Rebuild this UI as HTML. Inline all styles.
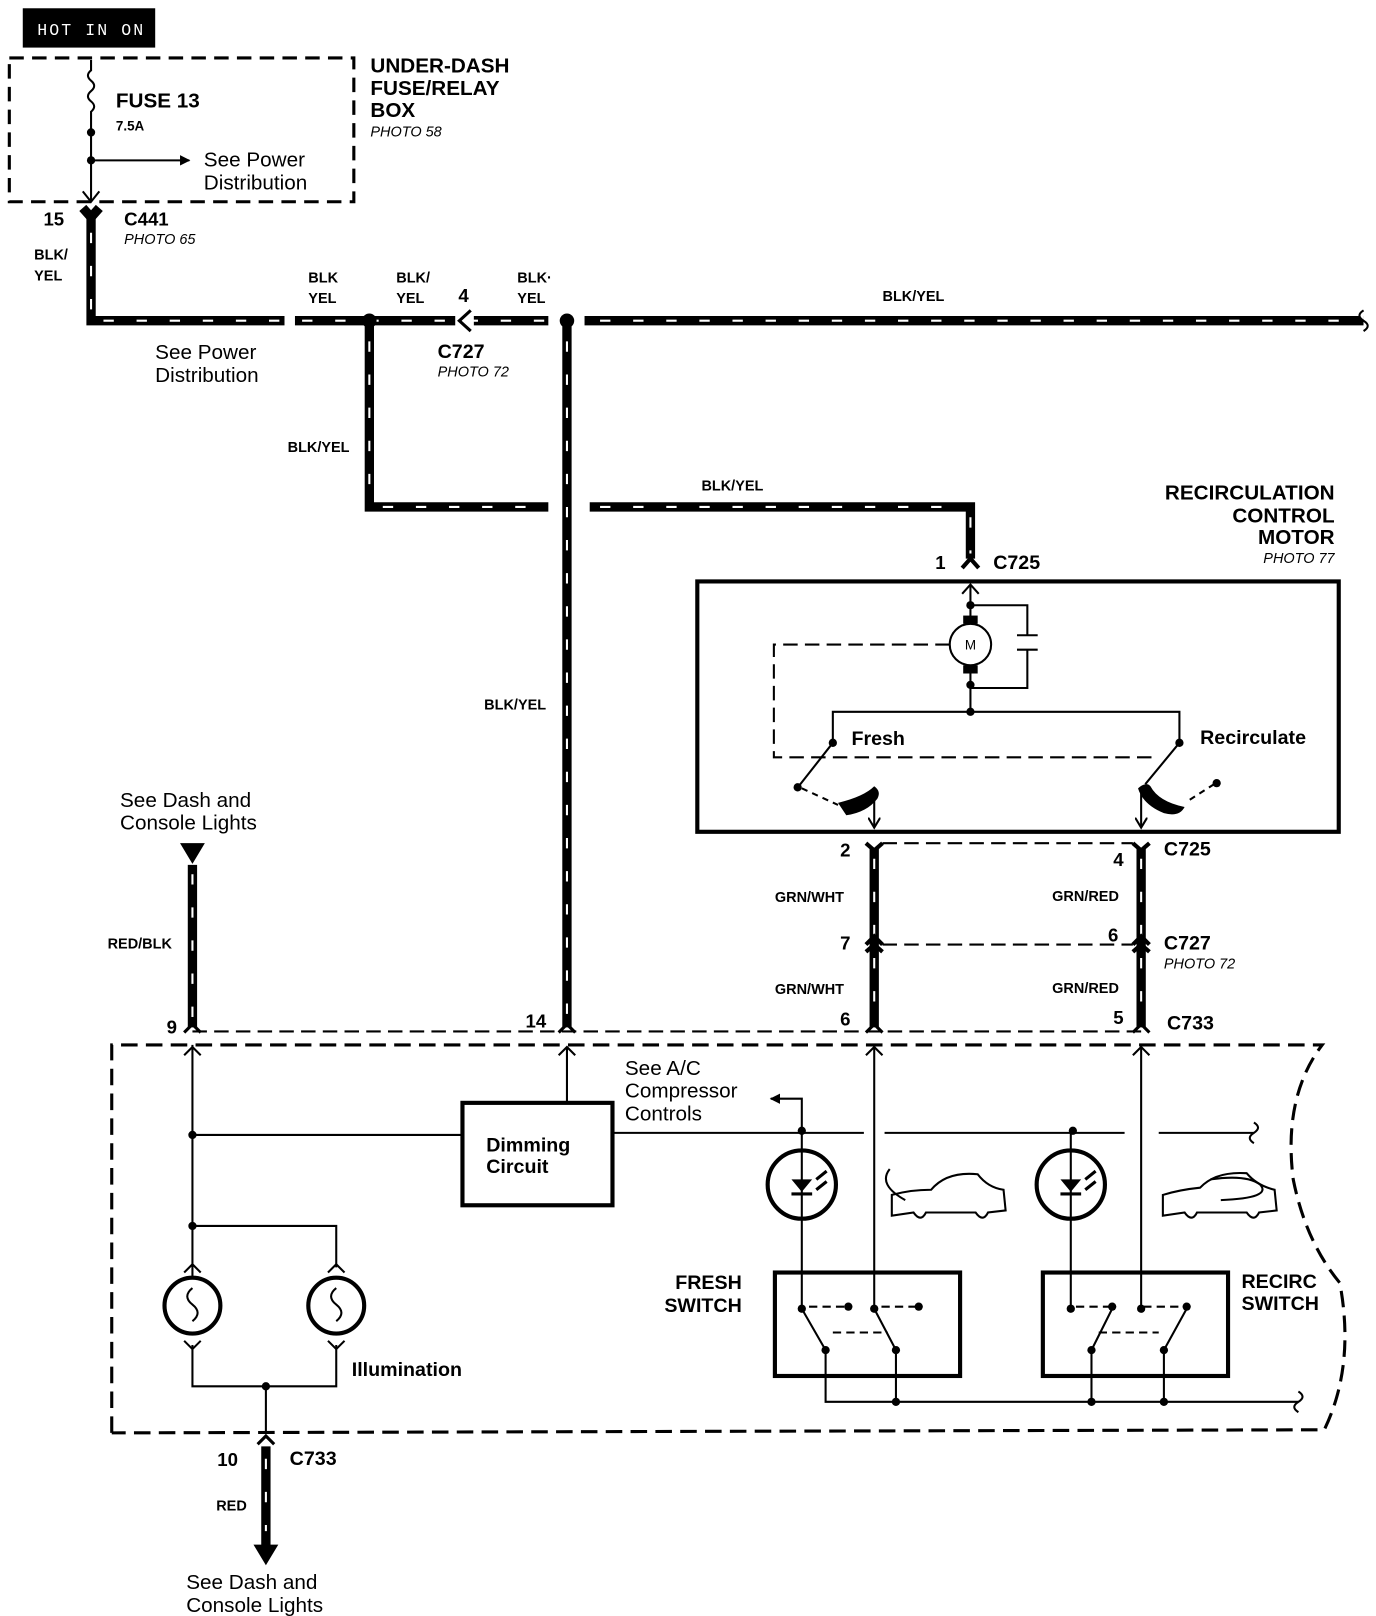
<!DOCTYPE html>
<html><head><meta charset="utf-8"><style>
html,body{margin:0;padding:0;background:#fff}
svg{display:block}
text{font-family:"Liberation Sans",Arial,sans-serif;fill:#000}
.b{font-weight:bold}
.i{font-style:italic;font-size:14px}
</style></head><body>
<svg width="1376" height="1616" viewBox="0 0 1330 1562" xmlns="http://www.w3.org/2000/svg">
<defs>
<marker id="ah" markerWidth="10" markerHeight="10" refX="9" refY="5" orient="auto" markerUnits="userSpaceOnUse"><path d="M0,0 L10,5 L0,10 z" fill="#000"/></marker>
<marker id="ao" markerWidth="12" markerHeight="12" refX="10" refY="6" orient="auto" markerUnits="userSpaceOnUse"><path d="M0,0 L10,6 L0,12" fill="none" stroke="#000" stroke-width="2"/></marker>
</defs>
<rect width="1330" height="1562" fill="#fff"/>
<!-- HOT IN ON -->
<rect x="22" y="8" width="128" height="38" fill="#000"/>
<text x="36" y="34" font-size="16" style="fill:#fff;letter-spacing:2px;font-family:'Liberation Mono',monospace">HOT IN ON</text>
<!-- fuse box -->
<rect x="9" y="56" width="333" height="139" fill="none" stroke="#000" stroke-width="3" stroke-dasharray="14 8"/>
<g stroke="#000" stroke-width="2" fill="none">
<path d="M88,58 L88,68 q-6,5 0,10 q6,5 0,10 q-6,5 0,10 q6,5 0,10 L88,195"/>
<path d="M88,155 L183,155" marker-end="url(#ah)"/>
<path d="M80,185 L88,195 L96,185"/>
</g>
<circle cx="88" cy="128" r="4"/><circle cx="88" cy="155" r="4"/>
<text x="112" y="104" font-size="20" class="b">FUSE 13</text>
<text x="112" y="126" font-size="13" class="b">7.5A</text>
<text x="197" y="161" font-size="20">See Power</text>
<text x="197" y="183" font-size="20">Distribution</text>
<text x="358" y="70" font-size="20" class="b">UNDER-DASH</text>
<text x="358" y="92" font-size="20" class="b">FUSE/RELAY</text>
<text x="358" y="113" font-size="20" class="b">BOX</text>
<text x="358" y="132" class="i">PHOTO 58</text>
<!-- C441 -->
<text x="42" y="218" font-size="18" class="b">15</text>
<text x="120" y="218" font-size="18" class="b">C441</text>
<text x="120" y="236" class="i">PHOTO 65</text>
<text x="33" y="251" font-size="14" class="b">BLK/</text>
<text x="33" y="271" font-size="14" class="b">YEL</text>
<!-- thick wires -->
<g stroke="#000" stroke-width="9" fill="none">
<path d="M80,201 L88,210 L96,201"/>
<path d="M88,205 L88,310 L275,310"/>
<path d="M285,310 L440,310"/>
<path d="M458,310 L530,310"/>
<path d="M565,310 L1318,310"/>
<path d="M357,310 L357,490 L530,490"/>
<path d="M548,310 L548,993"/>
<path d="M570,490 L938,490 L938,540"/>
<path d="M845,820 L845,993"/>
<path d="M1103,820 L1103,993"/>
<path d="M186,836 L186,993"/>
<path d="M257,1398 L257,1495"/>
</g>
<g stroke="#fff" stroke-width="2" fill="none" stroke-dasharray="10 22">
<path d="M88,225 L88,300"/>
<path d="M100,310 L1310,310"/>
<path d="M357,330 L357,480"/>
<path d="M370,490 L520,490"/>
<path d="M548,330 L548,985"/>
<path d="M580,490 L925,490"/>
<path d="M938,500 L938,535"/>
<path d="M845,830 L845,985"/>
<path d="M1103,830 L1103,985"/>
<path d="M186,845 L186,985"/>
<path d="M257,1410 L257,1480"/>
</g>
<rect x="275" y="300" width="10" height="20" fill="#fff"/>
<path d="M1318,300 q-8,5 0,10 q8,5 0,10" stroke="#000" stroke-width="2" fill="#fff"/>
<path d="M455,300 L444,310 L455,320" stroke="#000" stroke-width="3" fill="none"/>
<circle cx="357" cy="310" r="7"/><circle cx="548" cy="310" r="7"/>
<text x="298" y="273" font-size="14" class="b">BLK</text>
<text x="298" y="293" font-size="14" class="b">YEL</text>
<text x="383" y="273" font-size="14" class="b">BLK/</text>
<text x="383" y="293" font-size="14" class="b">YEL</text>
<text x="443" y="292" font-size="18" class="b">4</text>
<text x="500" y="273" font-size="14" class="b">BLK·</text>
<text x="500" y="293" font-size="14" class="b">YEL</text>
<text x="853" y="291" font-size="14" class="b">BLK/YEL</text>
<text x="423" y="346" font-size="19" class="b">C727</text>
<text x="423" y="364" class="i">PHOTO 72</text>
<text x="150" y="347" font-size="20">See Power</text>
<text x="150" y="369" font-size="20">Distribution</text>
<text x="278" y="437" font-size="14" class="b">BLK/YEL</text>
<text x="468" y="686" font-size="14" class="b">BLK/YEL</text>
<text x="678" y="474" font-size="14" class="b">BLK/YEL</text>
<!-- Motor title -->
<text x="1290" y="483" font-size="20" class="b" text-anchor="end">RECIRCULATION</text>
<text x="1290" y="505" font-size="20" class="b" text-anchor="end">CONTROL</text>
<text x="1290" y="526" font-size="20" class="b" text-anchor="end">MOTOR</text>
<text x="1290" y="544" class="i" text-anchor="end">PHOTO 77</text>
<text x="904" y="550" font-size="18" class="b">1</text>
<text x="960" y="550" font-size="19" class="b">C725</text>
<path d="M930,549 L938,540 L946,549" stroke="#000" stroke-width="4" fill="none"/>
<!-- Motor box -->
<rect x="674" y="562" width="620" height="242" fill="none" stroke="#000" stroke-width="4"/>
<g stroke="#000" stroke-width="2" fill="none">
<path d="M938,565 L938,600"/>
<path d="M930,574 L938,565 L946,574"/>
<path d="M938,585 L993,585 L993,614"/>
<path d="M983,614 L1003,614 M983,628 L1003,628"/>
<path d="M993,628 L993,665 L938,665"/>
<path d="M938,645 L938,688"/>
<path d="M805,718 L805,688 L1140,688 L1140,718"/>
<path d="M918,623 L748,623 L748,732 L1120,732" stroke-dasharray="14 7"/>
<path d="M805,718 L772,760 M1140,718 L1107,758"/>
<path d="M775,762 L810,778" stroke-dasharray="6 5"/>
<path d="M1150,773 L1175,757" stroke-dasharray="6 5"/>
<path d="M845,765 L845,800" marker-end="url(#ao)"/>
<path d="M1103,765 L1103,800" marker-end="url(#ao)"/>
</g>
<circle cx="938" cy="623" r="20" fill="#fff" stroke="#000" stroke-width="2"/>
<text x="938" y="628" font-size="13" text-anchor="middle">M</text>
<rect x="931" y="595" width="14" height="8"/><rect x="931" y="643" width="14" height="8"/>
<circle cx="938" cy="585" r="4"/><circle cx="938" cy="662" r="4"/><circle cx="938" cy="688" r="4"/>
<circle cx="805" cy="718" r="4"/><circle cx="1140" cy="718" r="4"/>
<circle cx="771" cy="761" r="4"/><circle cx="1176" cy="757" r="4"/>
<path d="M810,776 Q835,770 845,760 Q852,765 848,772 Q838,785 818,788 Z" fill="#000"/>
<path d="M1100,762 Q1108,755 1112,760 Q1120,775 1145,780 Q1140,790 1125,786 Q1105,778 1100,762 Z" fill="#000"/>
<text x="823" y="720" font-size="19" class="b">Fresh</text>
<text x="1160" y="719" font-size="19" class="b">Recirculate</text>
<!-- C725 / C727 lower -->
<g stroke="#000" stroke-width="4" fill="none">
<path d="M837,815 L845,822 L853,815 M1095,815 L1103,822 L1111,815"/>
<path d="M837,913 L845,905 L853,913 M1095,913 L1103,905 L1111,913"/>
<path d="M837,920 L845,913 L853,920 M1095,920 L1103,913 L1111,920"/>
</g>
<g stroke="#000" stroke-width="2" fill="none" stroke-dasharray="14 7">
<path d="M853,815 L1095,815"/>
<path d="M853,913 L1095,913"/>
<path d="M186,997 L1110,997"/>
</g>
<text x="812" y="828" font-size="18" class="b">2</text>
<text x="1076" y="837" font-size="18" class="b">4</text>
<text x="1125" y="827" font-size="19" class="b">C725</text>
<text x="749" y="872" font-size="14" class="b">GRN/WHT</text>
<text x="1017" y="871" font-size="14" class="b">GRN/RED</text>
<text x="812" y="918" font-size="18" class="b">7</text>
<text x="1071" y="910" font-size="18" class="b">6</text>
<text x="1125" y="918" font-size="19" class="b">C727</text>
<text x="1125" y="936" class="i">PHOTO 72</text>
<text x="749" y="961" font-size="14" class="b">GRN/WHT</text>
<text x="1017" y="960" font-size="14" class="b">GRN/RED</text>
<text x="812" y="991" font-size="18" class="b">6</text>
<text x="1076" y="990" font-size="18" class="b">5</text>
<text x="1128" y="995" font-size="19" class="b">C733</text>
<text x="161" y="999" font-size="18" class="b">9</text>
<text x="508" y="993" font-size="18" class="b">14</text>
<g stroke="#000" stroke-width="3" fill="none">
<path d="M178,998 L186,990 L194,998 M540,998 L548,990 L556,998 M837,998 L845,990 L853,998 M1095,998 L1103,990 L1111,998"/>
</g>
<!-- See Dash top -->
<text x="116" y="780" font-size="20">See Dash and</text>
<text x="116" y="802" font-size="20">Console Lights</text>
<path d="M174,815 L198,815 L186,835 Z"/>
<text x="104" y="917" font-size="14" class="b">RED/BLK</text>
<!-- big dashed box -->
<path d="M108,1385 L108,1010 L1278,1010 Q1240,1060 1250,1140 Q1262,1200 1295,1240 Q1310,1320 1280,1382 L108,1385" fill="none" stroke="#000" stroke-width="3" stroke-dasharray="16 8"/>
<g stroke="#000" stroke-width="2" fill="none">
<path d="M186,1010 L186,1235"/>
<path d="M178,1020 L186,1012 L194,1020 M540,1020 L548,1012 L556,1020 M837,1020 L845,1012 L853,1020 M1095,1020 L1103,1012 L1111,1020"/>
<path d="M186,1097 L447,1097"/>
<path d="M548,1066 L548,1012"/>
<path d="M592,1095 L835,1095 M855,1095 L1087,1095 M1120,1095 L1212,1095"/>
<path d="M1212,1085 q8,5 0,10 q-8,5 0,10"/>
<path d="M775,1095 L775,1062 L745,1062" marker-end="url(#ah)"/>
<path d="M845,1012 L845,1265 M1103,1012 L1103,1265 M775,1095 L775,1265 M1035,1095 L1035,1265"/>
<path d="M186,1185 L325,1185 L325,1225"/>
<path d="M186,1300 L186,1340 L325,1340 L325,1300"/>
<path d="M257,1340 L257,1385"/>
<path d="M798,1305 L798,1355 L1255,1355"/>
<path d="M1255,1345 q8,5 0,10 q-8,5 0,10"/>
<path d="M866,1305 L866,1355 M1055,1305 L1055,1355 M1125,1305 L1125,1355"/>
<path d="M178,1230 L186,1222 L194,1230 M317,1230 L325,1222 L333,1230 M178,1296 L186,1304 L194,1296 M317,1296 L325,1304 L333,1296"/>
<path d="M775,1265 L798,1305 M845,1265 L866,1305 M1075,1265 L1055,1305 M1147,1265 L1125,1305"/>
<path d="M782,1263 L820,1263 M852,1263 L888,1263 M1040,1263 L1075,1263 M1105,1263 L1145,1263 M805,1288 L858,1288 M1062,1288 L1120,1288" stroke-dasharray="8 5"/>
<path d="M860,1130 q-12,15 15,30"/>
<path d="M862,1175 L862,1155 Q880,1150 900,1150 Q915,1132 945,1135 Q955,1148 970,1150 L972,1170 L955,1172 q-5,10 -12,0 L895,1172 q-5,10 -12,0 Z"/>
<path d="M1124,1175 L1124,1155 Q1140,1150 1160,1148 Q1175,1132 1205,1134 Q1215,1146 1232,1150 L1234,1170 L1217,1172 q-5,10 -12,0 L1157,1172 q-5,10 -12,0 Z"/>
<path d="M1180,1160 Q1230,1158 1218,1145 Q1205,1135 1170,1140"/>
</g>
<g stroke="#000" stroke-width="4" fill="none">
<rect x="447" y="1066" width="145" height="99"/>
<circle cx="775" cy="1145" r="33"/>
<circle cx="1035" cy="1145" r="33"/>
<circle cx="186" cy="1262" r="27"/>
<circle cx="325" cy="1262" r="27"/>
<rect x="749" y="1230" width="179" height="100"/>
<rect x="1008" y="1230" width="179" height="100"/>
</g>
<path d="M765,1140 L785,1140 L775,1152 Z M1025,1140 L1045,1140 L1035,1152 Z"/>
<path d="M765,1154 L785,1154 M1025,1154 L1045,1154 M789,1140 L799,1132 M789,1150 L799,1142 M1049,1140 L1059,1132 M1049,1150 L1059,1142" stroke="#000" stroke-width="3"/>
<path d="M186,1245 q-10,8 0,16 q10,8 0,16 M325,1245 q-10,8 0,16 q10,8 0,16" stroke="#000" stroke-width="2" fill="none"/>
<g>
<circle cx="186" cy="1097" r="4"/><circle cx="186" cy="1185" r="4"/><circle cx="257" cy="1340" r="4"/>
<circle cx="775" cy="1093" r="4"/><circle cx="1037" cy="1093" r="4"/>
<circle cx="866" cy="1355" r="4"/><circle cx="1055" cy="1355" r="4"/><circle cx="1125" cy="1355" r="4"/>
<circle cx="775" cy="1265" r="4"/><circle cx="845" cy="1265" r="4"/><circle cx="820" cy="1263" r="4"/><circle cx="888" cy="1263" r="4"/>
<circle cx="798" cy="1305" r="4"/><circle cx="866" cy="1305" r="4"/>
<circle cx="1035" cy="1265" r="4"/><circle cx="1103" cy="1265" r="4"/><circle cx="1075" cy="1263" r="4"/><circle cx="1147" cy="1263" r="4"/>
<circle cx="1055" cy="1305" r="4"/><circle cx="1125" cy="1305" r="4"/>
</g>
<text x="470" y="1113" font-size="19" class="b">Dimming</text>
<text x="470" y="1134" font-size="19" class="b">Circuit</text>
<text x="604" y="1039" font-size="20">See A/C</text>
<text x="604" y="1061" font-size="20">Compressor</text>
<text x="604" y="1083" font-size="20">Controls</text>
<text x="717" y="1246" font-size="19" class="b" text-anchor="end">FRESH</text>
<text x="717" y="1268" font-size="19" class="b" text-anchor="end">SWITCH</text>
<text x="1200" y="1245" font-size="19" class="b">RECIRC</text>
<text x="1200" y="1266" font-size="19" class="b">SWITCH</text>
<text x="340" y="1330" font-size="19" class="b">Illumination</text>
<!-- bottom -->
<path d="M249,1396 L257,1388 L265,1396" stroke="#000" stroke-width="3" fill="none"/>
<path d="M245,1493 L269,1493 L257,1513 Z"/>
<text x="210" y="1417" font-size="18" class="b">10</text>
<text x="280" y="1416" font-size="19" class="b">C733</text>
<text x="209" y="1460" font-size="14" class="b">RED</text>
<text x="180" y="1536" font-size="20">See Dash and</text>
<text x="180" y="1558" font-size="20">Console Lights</text>
</svg>
</body></html>
